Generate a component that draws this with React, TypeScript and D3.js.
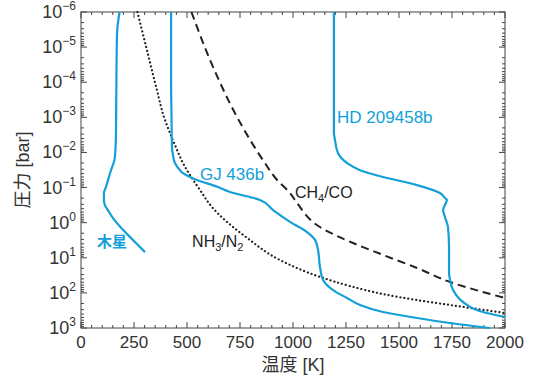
import { useEffect, useRef } from "react"
import * as d3 from "d3"

// temperature [K] and pressure [bar]
const jupiterT = [182, 170, 167, 165, 160, 137, 118, 108, 108, 113, 127, 151, 198, 245, 302]
const jupiterP = [1e-6, 4e-6, 9e-5, 2.8e-3, 1.35e-2, 3.9e-2, 9.5e-2, 0.145, 0.22, 0.32, 0.44, 0.74, 1.6, 3.1, 6.9]

const gjT = [425, 425, 427, 429, 434, 443, 467, 481, 514, 547, 646, 703, 844, 906, 986, 1066, 1104, 1118, 1127, 1142, 1189, 1255, 1316, 1425, 1585, 1740, 1929]
const gjP = [1e-6, 1e-4, 1e-3, 7e-3, 1.2e-2, 2e-2, 3.2e-2, 3.9e-2, 5e-2, 6.1e-2, 9.6e-2, 0.134, 0.226, 0.44, 0.95, 1.85, 3.1, 6.0, 18, 43, 83, 140, 221, 351, 519, 721, 1000]

const hdT = [1193, 1193, 1198, 1212, 1255, 1316, 1425, 1585, 1693, 1717, 1726, 1717, 1708, 1717, 1731, 1736, 1736, 1741, 1755, 1802, 1896, 2000]
const hdP = [1e-6, 2.8e-3, 4.4e-3, 1.04e-2, 2e-2, 3.2e-2, 5e-2, 8.5e-2, 0.143, 0.199, 0.226, 0.31, 0.44, 0.69, 1.33, 4.9, 27, 43, 83, 182, 351, 486]

const ch4T = [521, 623, 736, 858, 925, 986, 1019, 1127, 1283, 1425, 1585, 1741, 2000]
const ch4P = [1e-6, 3.7e-5, 9.8e-4, 1.64e-2, 6.1e-2, 0.143, 0.275, 1.33, 3.8, 8.3, 19.5, 49, 140]

const nh3T = [266, 311, 358, 396, 420, 453, 481, 514, 561, 618, 783, 939, 1127, 1269, 1425, 1585, 1741, 2000]
const nh3P = [1e-6, 1.2e-5, 1.67e-4, 1.19e-3, 2.8e-3, 8.5e-3, 2e-2, 4.4e-2, 0.117, 0.36, 2.7, 11.6, 35, 64, 108, 160, 221, 374]

const xTicks = [0, 250, 500, 750, 1000, 1250, 1500, 1750, 2000]
const yExponents = [-6, -5, -4, -3, -2, -1, 0, 1, 2, 3]

const BLUE = "#139fd7"
const INK = "#222"
const FONT = "'Liberation Sans', 'Noto Sans CJK JP', sans-serif"

export default function App() {
  const svgRef = useRef<SVGSVGElement>(null)

  useEffect(() => {
    document.body.style.margin = "0"
    if (!svgRef.current) return
    const width = 537
    const height = 378
    const margin = { top: 12, right: 32, bottom: 50, left: 81 }
    const x0 = margin.left
    const x1 = width - margin.right
    const y0 = margin.top
    const y1 = height - margin.bottom

    const svg = d3.select(svgRef.current).attr("width", width).attr("height", height)
    svg.selectAll("*").remove()

    const x = d3.scaleLinear().domain([0, 2000]).range([x0, x1])
    const y = d3.scaleLog().domain([1e-6, 1e3]).range([y0, y1])

    // ticks, all pointing inward
    const axis = svg.append("g").attr("stroke", "#444").attr("stroke-width", 1)
    const minorX = d3.range(0, 2001, 50)
    minorX.forEach((t) => {
      const len = t % 250 === 0 ? 6 : 3
      axis.append("line").attr("x1", x(t)).attr("x2", x(t)).attr("y1", y1).attr("y2", y1 - len)
      axis.append("line").attr("x1", x(t)).attr("x2", x(t)).attr("y1", y0).attr("y2", y0 + len)
    })
    yExponents.forEach((e) => {
      const major = Math.pow(10, e)
      axis.append("line").attr("x1", x0).attr("x2", x0 + 6).attr("y1", y(major)).attr("y2", y(major))
      axis.append("line").attr("x1", x1).attr("x2", x1 - 6).attr("y1", y(major)).attr("y2", y(major))
      if (e < 3) {
        for (let k = 2; k <= 9; k++) {
          const v = k * major
          axis.append("line").attr("x1", x0).attr("x2", x0 + 3).attr("y1", y(v)).attr("y2", y(v))
          axis.append("line").attr("x1", x1).attr("x2", x1 - 3).attr("y1", y(v)).attr("y2", y(v))
        }
      }
    })
    axis
      .append("rect")
      .attr("x", x0)
      .attr("y", y0)
      .attr("width", x1 - x0)
      .attr("height", y1 - y0)
      .attr("fill", "none")

    // tick labels
    const labels = svg.append("g").attr("font-family", FONT).attr("fill", "#333")
    xTicks.forEach((t) => {
      labels
        .append("text")
        .attr("x", x(t))
        .attr("y", y1 + 20)
        .attr("text-anchor", "middle")
        .attr("font-size", 17)
        .text(t)
    })
    yExponents.forEach((e) => {
      const txt = labels
        .append("text")
        .attr("x", x0 - 5)
        .attr("y", y(Math.pow(10, e)) + 6)
        .attr("text-anchor", "end")
        .attr("font-size", 18)
      txt.append("tspan").text("10")
      txt
        .append("tspan")
        .attr("dy", -8)
        .attr("font-size", 12)
        .text(e < 0 ? `\u2212${-e}` : `${e}`)
    })

    labels
      .append("text")
      .attr("x", (x0 + x1) / 2)
      .attr("y", 371)
      .attr("text-anchor", "middle")
      .attr("font-size", 18)
      .text("温度 [K]")
    labels
      .append("text")
      .attr("transform", `translate(29,${(y0 + y1) / 2}) rotate(-90)`)
      .attr("text-anchor", "middle")
      .attr("font-size", 18)
      .text("圧力 [bar]")

    // profiles
    const line = d3
      .line<[number, number]>()
      .x((d) => x(d[0]))
      .y((d) => y(d[1]))
      .curve(d3.curveMonotoneY)
    const zip = (ts: number[], ps: number[]) => ts.map((t, i) => [t, ps[i]] as [number, number])

    const plot = svg.append("g").attr("fill", "none")
    plot
      .append("path")
      .attr("d", line(zip(nh3T, nh3P)))
      .attr("stroke", INK)
      .attr("stroke-width", 2.2)
      .attr("stroke-linecap", "round")
      .attr("stroke-dasharray", "0.1,3.9")
    plot
      .append("path")
      .attr("d", line(zip(ch4T, ch4P)))
      .attr("stroke", INK)
      .attr("stroke-width", 2)
      .attr("stroke-dasharray", "8,5")
    ;[zip(jupiterT, jupiterP), zip(gjT, gjP), zip(hdT, hdP)].forEach((pts) => {
      plot.append("path").attr("d", line(pts)).attr("stroke", BLUE).attr("stroke-width", 2.2)
    })

    // curve labels
    const tag = svg.append("g").attr("font-family", FONT).attr("font-size", 16)
    tag.append("text").attr("x", x(75)).attr("y", y(4.9)).attr("fill", BLUE).attr("font-weight", 700).attr("font-size", 15).text("木星")
    tag.append("text").attr("x", x(561)).attr("y", y(6.1e-2)).attr("fill", BLUE).attr("font-size", 17).text("GJ 436b")
    tag.append("text").attr("x", x(1208)).attr("y", y(1.45e-3)).attr("fill", BLUE).attr("font-size", 17).text("HD 209458b")

    const ch4 = tag.append("text").attr("x", x(1009)).attr("y", y(0.2)).attr("fill", INK)
    ch4.append("tspan").text("CH")
    ch4.append("tspan").attr("font-size", 11).attr("dy", 4).text("4")
    ch4.append("tspan").attr("dy", -4).text("/CO")

    const nh3 = tag.append("text").attr("x", x(524)).attr("y", y(4.9)).attr("fill", INK)
    nh3.append("tspan").text("NH")
    nh3.append("tspan").attr("font-size", 11).attr("dy", 4).text("3")
    nh3.append("tspan").attr("dy", -4).text("/N")
    nh3.append("tspan").attr("font-size", 11).attr("dy", 4).text("2")
  }, [])

  return <svg ref={svgRef} />
}
